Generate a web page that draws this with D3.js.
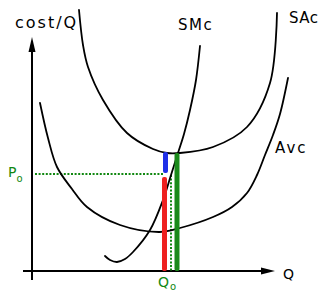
<!DOCTYPE html>
<html><head><meta charset="utf-8">
<script src="https://d3js.org/d3.v7.min.js"></script>
<style>html,body{margin:0;padding:0;background:#fff;}svg{display:block;}</style>
</head><body>
<svg id="c" width="326" height="304"></svg>
<script>
// ---- data ----
const sacQ = [47,51,56,71,95,121,135,148,181,215,238,245];
const sacC = [261,226,204,171,138,122,118,118,124,144,188,258];
const avcQ = [8,16,25,40,55,88,128,148,181,200,215,225,233,241,248,256];
const avcC = [168,133,104,82,64,46,39,43,54,64,78,96,116,136,157,193];
const smcQ = [73,78,85,93,101,118,131,139,146,152,158,164,168];
const smcC = [15,11,9,12,19,41,71,96,118,137,161,191,225];
const curveLabels = ["SAc","SMc","Avc"];
const axisLabels = ["cost/Q","Q"];
const Q0 = 139, P0 = 97;
const barQ = [133.5, 132.5, 145];      // blue, red, green
const barLo = [98, 0, 0];
const barHi = [119, 94, 118];

// ---- scales ----
const x = d3.scaleLinear().domain([0, 250]).range([32, 282]);
const y = d3.scaleLinear().domain([0, 270]).range([271, 1]);
const svg = d3.select("#c");
const font = "'DejaVu Sans', sans-serif";

// axes
svg.append("line").attr("x1", x(0)).attr("x2", x(0)).attr("y1", y(-9)).attr("y2", y(222))
  .attr("stroke","#000").attr("stroke-width",2);
svg.append("line").attr("x1", x(-9)).attr("x2", x(232)).attr("y1", y(0)).attr("y2", y(0))
  .attr("stroke","#000").attr("stroke-width",2);
svg.append("path").attr("d", `M${x(0)},${y(234)} L${x(0)-3.5},${y(219)} L${x(0)+3.5},${y(219)} Z`).attr("fill","#000");
svg.append("path").attr("d", `M${x(243)},${y(0)} L${x(229)},${y(0)-3.5} L${x(229)},${y(0)+3.5} Z`).attr("fill","#000");

// dotted guides
svg.append("line").attr("x1", x(3)).attr("x2", x(132)).attr("y1", y(P0)).attr("y2", y(P0))
  .attr("stroke","#118811").attr("stroke-width",2).attr("stroke-dasharray","2,1.6");
svg.append("line").attr("x1", x(Q0)).attr("x2", x(Q0)).attr("y1", y(96)).attr("y2", y(0))
  .attr("stroke","#118811").attr("stroke-width",2).attr("stroke-dasharray","2,1.6");

// curves
const line = d3.line().x(d => x(d[0])).y(d => y(d[1])).curve(d3.curveCatmullRom.alpha(0.5));
[[sacQ,sacC],[avcQ,avcC],[smcQ,smcC]].forEach(([q,c]) => {
  svg.append("path").attr("d", line(q.map((v,i)=>[v,c[i]])))
    .attr("fill","none").attr("stroke","#000").attr("stroke-width",1.8).attr("stroke-linecap","round");
});

// bars
const barColors = ["#1f2fe8","#ee2020","#1a8a1a"];
const barW = [5, 5, 5];
barQ.forEach((q,i) => {
  svg.append("rect").attr("x", x(q) - barW[i]/2).attr("width", barW[i])
    .attr("y", y(barHi[i])).attr("height", y(barLo[i]) - y(barHi[i]))
    .attr("fill", barColors[i]).attr("rx", 2);
});

// labels
const txt = (t, px, py, size, ls, col) => svg.append("text").attr("x",px).attr("y",py)
  .attr("font-family",font).attr("font-size",size).attr("letter-spacing",ls)
  .attr("fill",col||"#000").text(t);
txt(axisLabels[0], 15, 28, 16, 2);
txt(axisLabels[1], 283, 279, 14, 0);
txt(curveLabels[0], 289, 23, 15, 0.5);
txt(curveLabels[1], 178, 30, 15, 1.5);
txt(curveLabels[2], 275, 153, 15, 2);
// Q0, P0
const q0 = svg.append("text").attr("x",158).attr("y",287).attr("font-family",font).attr("font-size",14).attr("fill","#118811");
q0.append("tspan").text("Q");
q0.append("tspan").attr("font-size",10).attr("dx",1).attr("dy",3).text("o");
const p0 = svg.append("text").attr("x",8).attr("y",177).attr("font-family",font).attr("font-size",14).attr("fill","#118811");
p0.append("tspan").text("P");
p0.append("tspan").attr("font-size",10).attr("dy",5).text("o");
</script>
</body></html>
